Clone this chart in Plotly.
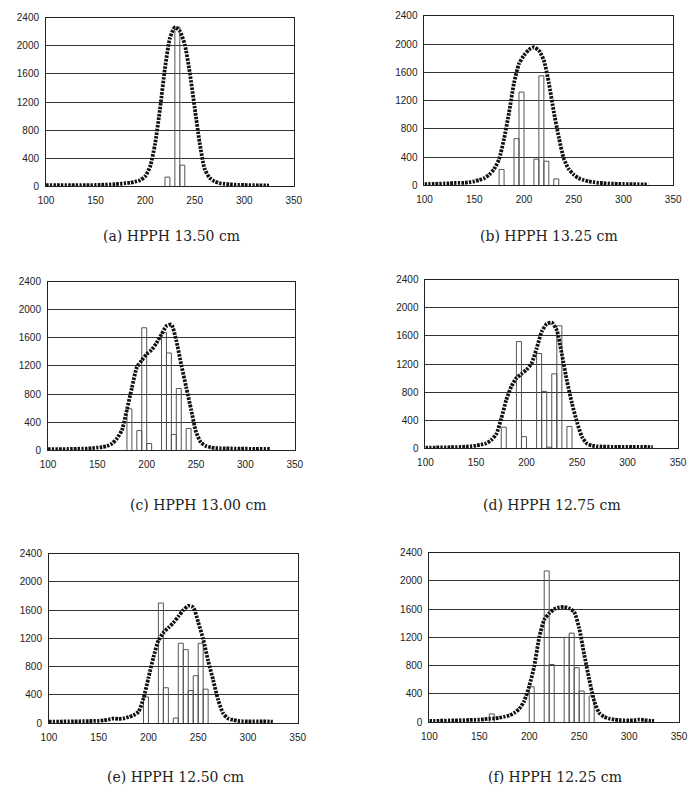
import plotly.graph_objects as go

# ---------------- data ----------------
X_GRID = [100, 105, 110, 115, 120, 125, 130, 135, 140, 145,
          150, 155, 160, 165, 170, 175, 180, 185, 190, 195,
          200, 205, 210, 215, 220, 225, 230, 235, 240, 245,
          250, 255, 260, 265, 270, 275, 280, 285, 290, 295,
          300, 305, 310, 315, 320, 325]

CURVE_A = [15, 15, 15, 15, 15, 15, 15, 15, 15, 15,
           18, 20, 22, 25, 30, 35, 45, 50, 65, 85,
           140, 280, 600, 1100, 1680, 2110, 2265, 2210, 2020, 1620,
           1120, 620, 250, 120, 70, 45, 35, 28, 22, 20,
           18, 15, 15, 12, 12, 10]
CURVE_B = [15, 18, 20, 22, 25, 28, 32, 35, 35, 42,
           55, 75, 100, 150, 230, 370, 660, 1030, 1450, 1720,
           1840, 1920, 1955, 1910, 1770, 1450, 1040, 680, 380, 230,
           150, 100, 75, 55, 45, 35, 30, 25, 22, 20,
           18, 16, 15, 14, 13, 12]
CURVE_C = [15, 15, 15, 15, 17, 18, 20, 22, 25, 30,
           37, 45, 60, 95, 170, 290, 580, 890, 1180, 1280,
           1370, 1430, 1530, 1650, 1770, 1790, 1560, 1220, 900, 580,
           260, 110, 60, 40, 30, 27, 25, 24, 22, 22,
           21, 20, 20, 20, 20, 18]
CURVE_D = [10, 10, 10, 12, 12, 14, 16, 18, 23, 28,
           37, 50, 70, 115, 200, 420, 690, 880, 1000, 1060,
           1120, 1210, 1420, 1660, 1770, 1790, 1680, 1340, 960, 640,
           370, 160, 65, 38, 28, 24, 22, 20, 20, 20,
           20, 20, 20, 18, 18, 15]
CURVE_E = [20, 20, 20, 22, 22, 24, 25, 26, 28, 30,
           32, 38, 50, 65, 58, 65, 85, 110, 160, 350,
           640, 930, 1170, 1280, 1350, 1420, 1510, 1600, 1660, 1640,
           1430, 1190, 880, 610, 330, 140, 65, 45, 30, 25,
           22, 22, 22, 25, 22, 20]
CURVE_F = [15, 15, 18, 20, 22, 24, 25, 27, 30, 32,
           33, 40, 47, 52, 60, 75, 93, 130, 186, 300,
           510, 790, 1200, 1450, 1540, 1600, 1625, 1630, 1610, 1560,
           1330, 960, 610, 300, 130, 75, 50, 35, 28, 25,
           22, 25, 35, 28, 20, 15]

BINS_A = [220, 230, 235]
COUNTS_A = [130, 2270, 300]
BINS_B = [175, 190, 195, 210, 215, 220, 230]
COUNTS_B = [224, 660, 1320, 370, 1550, 340, 90]
BINS_C = [180, 190, 195, 200, 215, 220, 225, 230, 240]
COUNTS_C = [590, 280, 1745, 95, 1675, 1385, 225, 880, 310]
BINS_D = [175, 190, 195, 210, 215, 220, 225, 230, 240]
COUNTS_D = [300, 1520, 165, 1350, 810, 15, 1060, 1745, 310]
BINS_E = [195, 210, 215, 225, 230, 235, 240, 245, 250, 255]
COUNTS_E = [370, 1700, 500, 70, 1130, 1040, 460, 670, 1130, 480]
BINS_F = [160, 200, 215, 220, 235, 240, 245, 250, 260]
COUNTS_F = [115, 500, 2140, 815, 1200, 1260, 770, 440, 370]

CAPTIONS = ["(a) HPPH 13.50 cm", "(b) HPPH 13.25 cm",
            "(c) HPPH 13.00 cm", "(d) HPPH 12.75 cm",
            "(e) HPPH 12.50 cm", "(f) HPPH 12.25 cm"]

X_TICKS = [100, 150, 200, 250, 300, 350]
Y_TICKS = [0, 400, 800, 1200, 1600, 2000, 2400]
BIN_WIDTH = 5

# ---------------- layout geometry (pixels) ----------------
W, H = 690, 797
# (left, right, top, bottom) of each plot frame, caption centre (x, y)
BOXES = [(39, 293, 12, 183), (427, 682, 10, 182),
         (41, 294, 280, 451), (428, 687, 278, 449),
         (42, 297, 556, 728), (432, 688, 555, 727)]
CAPS = [(168, 234), (555, 234), (195, 507), (558, 507), (172, 783), (561, 783)]

curves = [CURVE_A, CURVE_B, CURVE_C, CURVE_D, CURVE_E, CURVE_F]
bins = [BINS_A, BINS_B, BINS_C, BINS_D, BINS_E, BINS_F]
counts = [COUNTS_A, COUNTS_B, COUNTS_C, COUNTS_D, COUNTS_E, COUNTS_F]


def bin_outline(starts, heights, width):
    """Open-topped histogram outlines (vertical sides down to 0) per bin."""
    xs, ys = [], []
    for s, h in zip(starts, heights):
        xs += [s, s, s + width, s + width, None]
        ys += [0, h, h, 0, None]
    return xs, ys


fig = go.Figure()
layout_axes = {}
annotations = []
tick_font = dict(family="Liberation Sans, Arial, sans-serif", size=10, color="#222")

for i in range(6):
    n = i + 1
    xa = "x" if n == 1 else f"x{n}"
    ya = "y" if n == 1 else f"y{n}"
    hx, hy = bin_outline(bins[i], counts[i], BIN_WIDTH)
    fig.add_trace(go.Scatter(
        x=hx, y=hy, mode="lines", line=dict(color="#555", width=1),
        xaxis=xa, yaxis=ya, showlegend=False, hoverinfo="skip"))
    fig.add_trace(go.Scatter(
        x=X_GRID, y=curves[i], mode="lines",
        line=dict(color="#111", width=3.8, dash="2.5px,1.2px",
                  shape="spline", smoothing=0.6),
        xaxis=xa, yaxis=ya, showlegend=False, hoverinfo="skip"))

    l, r, t, b = BOXES[i]
    xkey = "xaxis" if n == 1 else f"xaxis{n}"
    ykey = "yaxis" if n == 1 else f"yaxis{n}"
    layout_axes[xkey] = dict(
        domain=[l / W, r / W], range=[100, 350], tickvals=X_TICKS,
        anchor=ya, showgrid=False, zeroline=False,
        showline=True, mirror=True, linecolor="#222", linewidth=1,
        ticks="", tickfont=tick_font, ticklabelstandoff=5, fixedrange=True)
    layout_axes[ykey] = dict(
        domain=[1 - b / H, 1 - t / H], range=[0, 2400], tickvals=Y_TICKS,
        anchor=xa, showgrid=True, gridcolor="#333", gridwidth=1, zeroline=False,
        showline=True, mirror=True, linecolor="#222", linewidth=1,
        ticks="", tickfont=tick_font, ticklabelstandoff=4, fixedrange=True)
    cx, cy = CAPS[i]
    annotations.append(dict(
        text=CAPTIONS[i], x=cx / W, y=1 - cy / H, xref="paper", yref="paper",
        xanchor="center", yanchor="middle", showarrow=False,
        font=dict(family="DejaVu Serif, serif", size=14, color="#222")))

fig.update_layout(
    width=W, height=H, margin=dict(l=0, r=0, t=0, b=0),
    paper_bgcolor="white", plot_bgcolor="white", showlegend=False,
    annotations=annotations, **layout_axes)

fig.write_html("out.html")
